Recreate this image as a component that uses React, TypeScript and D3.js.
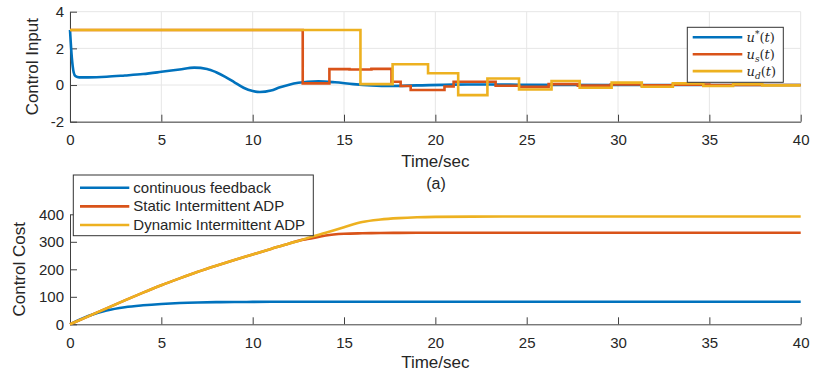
import { useEffect, useRef } from 'react';
import * as d3 from 'd3';

const W = 815;
const H = 374;
const BLUE = '#0072BD';
const ORANGE = '#D95319';
const YELLOW = '#EDB120';
const INK = '#262626';
const SANS = 'Liberation Sans, Arial, sans-serif';

const timeTicks = [0, 5, 10, 15, 20, 25, 30, 35, 40];
const inputTicks = [-2, 0, 2, 4];
const costTicks = [0, 100, 200, 300, 400];

// (a) control input
const uStarT = [0, 0.1, 0.2, 0.3, 0.5, 1, 2, 3, 4, 5, 6, 6.8, 7.5, 8, 8.5, 9, 9.5, 10, 10.4, 11, 11.5, 12, 12.5, 13, 13.6, 14.5, 15.5, 16.5, 17.5, 19, 21, 23, 25, 30, 40];
const uStarV = [3, 1.5, 0.7, 0.48, 0.42, 0.42, 0.45, 0.52, 0.6, 0.72, 0.85, 0.95, 0.88, 0.7, 0.45, 0.15, -0.15, -0.33, -0.38, -0.3, -0.12, 0.02, 0.12, 0.18, 0.2, 0.15, 0.05, -0.02, -0.05, -0.02, 0.02, 0.03, 0.01, 0, 0];

const usT = [0, 12.74, 14.2, 15.3, 16.5, 17.6, 18.1, 18.65, 20.5, 21.0, 23.3, 24.6, 26.2, 27.8, 29.6, 31.3, 33, 35, 40];
const usV = [3, 0.09, 0.87, 0.85, 0.88, 0.18, -0.05, -0.27, -0.08, 0.18, -0.04, -0.1, 0.05, -0.03, 0.03, -0.02, 0.02, 0, 0];

const udT = [0, 15.9, 17.66, 19.6, 21.25, 22.85, 24.58, 26.36, 27.9, 29.65, 31.3, 33, 34.67, 36.3, 37.9, 40];
const udV = [3, 0.05, 1.13, 0.64, -0.55, 0.36, -0.24, 0.22, -0.15, 0.13, -0.09, 0.09, -0.05, 0.05, -0.02, -0.02];

// (b) control cost
const costT = [0, 1, 2, 3, 4, 5, 6, 7, 8, 9, 10, 11, 12, 12.7, 13, 14, 15, 16, 17, 18, 19, 20, 22, 25, 30, 40];
const costCont = [0, 30, 50, 62, 69, 74, 77.5, 79.5, 80.5, 81, 81.5, 82, 82, 82, 82, 82, 82, 82, 82, 82, 82, 82, 82, 82, 82, 82];
const costStatic = [0, 29, 58, 87, 115, 142, 167, 191, 213, 234, 254, 274, 294, 307, 310, 323, 329, 331, 332, 332.5, 333, 333, 333, 333, 333, 333];
const costDynamic = [0, 29, 58, 87, 115, 142, 167, 191, 213, 234, 254, 274, 294, 307, 314, 333, 353, 372, 381, 386, 389, 390.5, 391.5, 392, 392, 392];

export default function App() {
  const ref = useRef<SVGSVGElement | null>(null);
  useEffect(() => {
    const svg = d3.select(ref.current!);
    svg.selectAll('*').remove();
    svg.append('rect').attr('width', W).attr('height', H).attr('fill', '#fff');

    const x1 = d3.scaleLinear().domain([0, 40]).range([70, 800.7]);
    const y1 = d3.scaleLinear().domain([-2, 4]).range([121.7, 11.7]);
    const x2 = d3.scaleLinear().domain([0, 40]).range([70, 800.7]);
    const y2 = d3.scaleLinear().domain([0, 400]).range([324.3, 214.3]);
    const plain = (d: any) => String(d);

    const styleAxis = (s: any) => {
      s.select('.domain').attr('stroke', '#404040').attr('stroke-width', 1);
      s.selectAll('.tick line').attr('stroke', '#404040');
      s.selectAll('text').attr('fill', INK).attr('font-size', 15).attr('font-family', SANS);
    };

    // ---- top: grid
    const top = svg.append('g');
    top.selectAll('.gx').data(timeTicks).enter().append('line')
      .attr('x1', (d) => x1(d)).attr('x2', (d) => x1(d)).attr('y1', y1(4)).attr('y2', y1(-2))
      .attr('stroke', '#e6e6e6');
    top.selectAll('.gy').data(inputTicks).enter().append('line')
      .attr('x1', x1(0)).attr('x2', x1(40)).attr('y1', (d) => y1(d)).attr('y2', (d) => y1(d))
      .attr('stroke', '#e6e6e6');

    top.append('g').attr('transform', `translate(0,${y1(-2)})`)
      .call(d3.axisBottom(x1).tickValues(timeTicks).tickFormat(plain).tickSize(-7).tickSizeOuter(0).tickPadding(12.6))
      .call(styleAxis);
    top.append('g').attr('transform', `translate(${x1(0)},0)`)
      .call(d3.axisLeft(y1).tickValues(inputTicks).tickFormat(plain).tickSize(-7).tickSizeOuter(0).tickPadding(6))
      .call(styleAxis);

    const stepLine = (T: number[], V: number[]) =>
      d3.line<number>().x((_, i) => x1(T[i])).y((v) => y1(v)).curve(d3.curveStepAfter)(V);
    const smooth1 = d3.line<number>().x((_, i) => x1(uStarT[i])).y((v) => y1(v)).curve(d3.curveMonotoneX);

    top.append('path').attr('d', smooth1(uStarV)).attr('fill', 'none').attr('stroke', BLUE).attr('stroke-width', 2.6);
    top.append('path').attr('d', stepLine(usT, usV)).attr('fill', 'none').attr('stroke', ORANGE).attr('stroke-width', 2.6);
    top.append('path').attr('d', stepLine(udT, udV)).attr('fill', 'none').attr('stroke', YELLOW).attr('stroke-width', 2.6);

    top.append('text').attr('x', 435.3).attr('y', 166.7).attr('text-anchor', 'middle')
      .attr('font-family', SANS).attr('font-size', 17).attr('fill', INK).text('Time/sec');
    top.append('text').attr('transform', `translate(38,${(y1(4) + y1(-2)) / 2}) rotate(-90)`).attr('text-anchor', 'middle')
      .attr('font-family', SANS).attr('font-size', 17).attr('fill', INK).text('Control Input');
    top.append('text').attr('x', 436).attr('y', 189).attr('text-anchor', 'middle')
      .attr('font-family', SANS).attr('font-size', 16).attr('fill', INK).text('(a)');

    // top legend
    const lg1 = top.append('g');
    lg1.append('rect').attr('x', 687.3).attr('y', 27.3).attr('width', 96).attr('height', 55)
      .attr('fill', '#fff').attr('stroke', '#333').attr('stroke-width', 1);
    const legTop = [
      { c: BLUE, base: 'u', sup: '*', sub: '' },
      { c: ORANGE, base: 'u', sup: '', sub: 's' },
      { c: YELLOW, base: 'u', sup: '', sub: 'd' },
    ];
    legTop.forEach((d, i) => {
      const cy = 37.3 + i * 16.9;
      lg1.append('line').attr('x1', 692.7).attr('x2', 742.3).attr('y1', cy).attr('y2', cy).attr('stroke', d.c).attr('stroke-width', 2.6);
      const t = lg1.append('text').attr('x', 746.5).attr('y', cy + 4.5).attr('font-family', 'DejaVu Serif, Liberation Serif, serif')
        .attr('font-size', 13).attr('fill', INK);
      t.append('tspan').attr('font-style', 'italic').text(d.base);
      if (d.sup) t.append('tspan').attr('font-size', 9).attr('dy', -5).text(d.sup);
      if (d.sub) t.append('tspan').attr('font-size', 9).attr('font-style', 'italic').attr('dy', 3).text(d.sub);
      const back = d.sup ? 5 : d.sub ? -3 : 0;
      t.append('tspan').attr('dy', back).text('(');
      t.append('tspan').attr('font-style', 'italic').text('t');
      t.append('tspan').text(')');
    });

    // ---- bottom
    const bot = svg.append('g');
    bot.append('g').attr('transform', `translate(0,${y2(0)})`)
      .call(d3.axisBottom(x2).tickValues(timeTicks).tickFormat(plain).tickSize(-7).tickSizeOuter(0).tickPadding(13.4))
      .call(styleAxis);
    bot.append('g').attr('transform', `translate(${x2(0)},0)`)
      .call(d3.axisLeft(y2).tickValues(costTicks).tickFormat(plain).tickSize(-7).tickSizeOuter(0).tickPadding(6))
      .call(styleAxis);

    const costLine = (V: number[]) =>
      d3.line<number>().x((_, i) => x2(costT[i])).y((v) => y2(v)).curve(d3.curveMonotoneX)(V);
    bot.append('path').attr('d', costLine(costCont)).attr('fill', 'none').attr('stroke', BLUE).attr('stroke-width', 2.6);
    bot.append('path').attr('d', costLine(costStatic)).attr('fill', 'none').attr('stroke', ORANGE).attr('stroke-width', 2.6);
    bot.append('path').attr('d', costLine(costDynamic)).attr('fill', 'none').attr('stroke', YELLOW).attr('stroke-width', 2.6);

    bot.append('text').attr('x', 435.3).attr('y', 368.4).attr('text-anchor', 'middle')
      .attr('font-family', SANS).attr('font-size', 17).attr('fill', INK).text('Time/sec');
    bot.append('text').attr('transform', `translate(25,${(y2(0) + y2(400)) / 2}) rotate(-90)`).attr('text-anchor', 'middle')
      .attr('font-family', SANS).attr('font-size', 17).attr('fill', INK).text('Control Cost');

    const lg2 = bot.append('g');
    lg2.append('rect').attr('x', 73.3).attr('y', 175).attr('width', 240).attr('height', 60.7)
      .attr('fill', '#fff').attr('stroke', '#333').attr('stroke-width', 1);
    const legBot = [
      { c: BLUE, label: 'continuous feedback' },
      { c: ORANGE, label: 'Static Intermittent ADP' },
      { c: YELLOW, label: 'Dynamic Intermittent ADP' },
    ];
    legBot.forEach((d, i) => {
      const cy = 187.7 + i * 18.65;
      lg2.append('line').attr('x1', 80).attr('x2', 129.3).attr('y1', cy).attr('y2', cy).attr('stroke', d.c).attr('stroke-width', 2.6);
      lg2.append('text').attr('x', 133.3).attr('y', cy + 5).attr('font-family', SANS).attr('font-size', 15)
        .attr('fill', INK).text(d.label);
    });
  }, []);
  return (
    <>
      <style>{`body{margin:0}`}</style>
      <svg ref={ref} width={W} height={H} style={{ display: 'block' }} />
    </>
  );
}
